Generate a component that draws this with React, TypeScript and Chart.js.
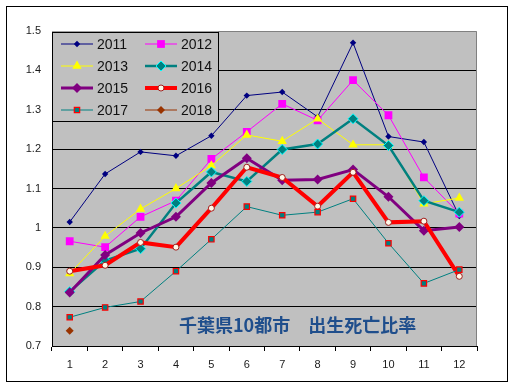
import React, { useEffect, useRef } from 'react';
import { Chart, registerables } from 'chart.js';

Chart.register(...registerables);

const months = ['1', '2', '3', '4', '5', '6', '7', '8', '9', '10', '11', '12'];
const years = ['2011', '2012', '2013', '2014', '2015', '2016', '2017', '2018'];

const v2011 = [1.015, 1.137, 1.193, 1.183, 1.234, 1.336, 1.345, 1.282, 1.47, 1.232, 1.218, 1.03];
const v2012 = [0.966, 0.951, 1.028, 1.069, 1.175, 1.244, 1.315, 1.273, 1.375, 1.286, 1.128, 1.036];
const v2013 = [0.884, 0.979, 1.048, 1.1, 1.158, 1.236, 1.22, 1.277, 1.211, 1.211, 1.061, 1.076];
const v2014 = [0.838, 0.917, 0.947, 1.063, 1.142, 1.118, 1.199, 1.213, 1.277, 1.209, 1.069, 1.04];
const v2015 = [0.836, 0.931, 0.987, 1.028, 1.114, 1.177, 1.121, 1.123, 1.148, 1.079, 0.993, 1.002];
const v2016 = [0.89, 0.905, 0.963, 0.951, 1.05, 1.154, 1.128, 1.055, 1.141, 1.014, 1.017, 0.877];
const v2017 = [0.773, 0.798, 0.813, 0.89, 0.971, 1.054, 1.032, 1.04, 1.074, 0.961, 0.859, 0.894];
const v2018 = [0.739, null, null, null, null, null, null, null, null, null, null, null];

const yMin = 0.7;
const yMax = 1.5;
const yStep = 0.1;

const titleText = '千葉県10都市　出生死亡比率';

type Style = {
  line: string;
  width: number;
  marker: 'rectRot' | 'rect' | 'triangle' | 'circle';
  radius: number;
  fill: string;
  border: string;
  borderWidth: number;
};

const styles: Style[] = [
  { line: '#000080', width: 1, marker: 'rectRot', radius: 3.2, fill: '#000080', border: '#000080', borderWidth: 0 },
  { line: '#FF00FF', width: 1, marker: 'rect', radius: 5.5, fill: '#FF00FF', border: '#FF00FF', borderWidth: 0 },
  { line: '#FFFF00', width: 1, marker: 'triangle', radius: 5.4, fill: '#FFFF00', border: '#FFFF00', borderWidth: 0 },
  { line: '#008080', width: 2.5, marker: 'rectRot', radius: 5, fill: '#008080', border: '#00FFFF', borderWidth: 1 },
  { line: '#800080', width: 3, marker: 'rectRot', radius: 5, fill: '#800080', border: '#800080', borderWidth: 0 },
  { line: '#FF0000', width: 4, marker: 'circle', radius: 3, fill: '#FFF8E8', border: '#A02020', borderWidth: 1 },
  { line: '#008080', width: 1, marker: 'rect', radius: 3.8, fill: '#008080', border: '#FF0000', borderWidth: 1.2 },
  { line: '#993300', width: 1, marker: 'rectRot', radius: 4, fill: '#993300', border: '#993300', borderWidth: 0 },
];

const seriesValues = [v2011, v2012, v2013, v2014, v2015, v2016, v2017, v2018];

function drawMarker(ctx: CanvasRenderingContext2D, s: Style, x: number, y: number) {
  const r = s.radius;
  ctx.beginPath();
  if (s.marker === 'rectRot') {
    ctx.moveTo(x, y - r);
    ctx.lineTo(x + r, y);
    ctx.lineTo(x, y + r);
    ctx.lineTo(x - r, y);
    ctx.closePath();
  } else if (s.marker === 'rect') {
    const h = r * Math.SQRT1_2;
    ctx.rect(x - h, y - h, 2 * h, 2 * h);
  } else if (s.marker === 'triangle') {
    for (let i = 0; i < 3; i++) {
      const a = (i * 2 * Math.PI) / 3;
      const px = x + Math.sin(a) * r;
      const py = y - Math.cos(a) * r;
      if (i === 0) ctx.moveTo(px, py);
      else ctx.lineTo(px, py);
    }
    ctx.closePath();
  } else {
    ctx.arc(x, y, r, 0, Math.PI * 2);
  }
  ctx.fillStyle = s.fill;
  ctx.fill();
  if (s.borderWidth > 0) {
    ctx.lineWidth = s.borderWidth;
    ctx.strokeStyle = s.border;
    ctx.stroke();
  }
}

const framePlugin = {
  id: 'frame',
  beforeDraw(chart: any) {
    const { ctx, chartArea, width, height } = chart;
    ctx.save();
    ctx.fillStyle = '#FFFFFF';
    ctx.fillRect(0, 0, width, height);
    ctx.strokeStyle = '#000000';
    ctx.lineWidth = 1;
    ctx.strokeRect(6.5, 6.5, width - 13, height - 13);
    ctx.fillStyle = '#C0C0C0';
    ctx.fillRect(chartArea.left, chartArea.top, chartArea.right - chartArea.left, chartArea.bottom - chartArea.top);
    ctx.restore();
  },
  beforeDatasetsDraw(chart: any) {
    const { ctx, chartArea } = chart;
    ctx.save();
    ctx.strokeStyle = '#808080';
    ctx.lineWidth = 1;
    ctx.beginPath();
    ctx.moveTo(chartArea.left, Math.round(chartArea.top) + 0.5);
    ctx.lineTo(Math.round(chartArea.right) - 0.5, Math.round(chartArea.top) + 0.5);
    ctx.lineTo(Math.round(chartArea.right) - 0.5, chartArea.bottom);
    ctx.stroke();
    ctx.restore();
  },
  afterDatasetsDraw(chart: any) {
    const { ctx, chartArea } = chart;
    ctx.save();
    // title inside plot area
    ctx.font = 'bold 18px "Noto Sans CJK JP", sans-serif';
    ctx.fillStyle = '#1F4E8C';
    ctx.textAlign = 'left';
    ctx.textBaseline = 'middle';
    ctx.fillText(titleText, chartArea.left + 127, chartArea.bottom - 21);

    // legend box
    const lx = chartArea.left;
    const ly = chartArea.top + 0.5;
    const lw = 166;
    const lh = 89;
    ctx.fillStyle = '#C0C0C0';
    ctx.fillRect(lx, ly, lw, lh);
    ctx.strokeStyle = '#000000';
    ctx.lineWidth = 1;
    ctx.strokeRect(Math.round(lx) + 0.5, Math.round(ly) + 0.5, lw, lh);
    ctx.font = '14px "Liberation Sans", Arial, sans-serif';
    ctx.textBaseline = 'middle';
    years.forEach((yr, i) => {
      const col = i % 2;
      const row = Math.floor(i / 2);
      const x0 = lx + 9 + col * 84;
      const yy = ly + 12.5 + row * 22;
      const s = styles[i];
      ctx.strokeStyle = s.line;
      ctx.lineWidth = s.width;
      ctx.beginPath();
      ctx.moveTo(x0, yy);
      ctx.lineTo(x0 + 32, yy);
      ctx.stroke();
      drawMarker(ctx, s, x0 + 16, yy);
      ctx.fillStyle = '#111111';
      ctx.fillText(yr, x0 + 36, yy + 1);
    });
    ctx.restore();
  },
};

export default function App() {
  const ref = useRef<HTMLCanvasElement | null>(null);

  useEffect(() => {
    if (!ref.current) return;
    const datasets = years.map((yr, i) => {
      const s = styles[i];
      return {
        label: yr,
        data: seriesValues[i],
        borderColor: s.line,
        borderWidth: s.width,
        backgroundColor: s.fill,
        pointStyle: s.marker,
        pointRadius: s.radius,
        pointHoverRadius: s.radius,
        pointBackgroundColor: s.fill,
        pointBorderColor: s.border,
        pointBorderWidth: s.borderWidth,
        tension: 0,
        fill: false,
        order: years.length - 1 - i,
      };
    });
    const chart = new Chart(ref.current, {
      type: 'line',
      data: { labels: months, datasets },
      options: {
        animation: false,
        responsive: false,
        devicePixelRatio: 1,
        layout: { padding: { top: 31, right: 37, bottom: 0, left: 0 } },
        plugins: { legend: { display: false }, tooltip: { enabled: false }, title: { display: false } },
        scales: {
          x: {
            type: 'category',
            offset: true,
            afterFit: (scale: any) => {
              scale.height = 42;
            },
            grid: {
              offset: true,
              drawOnChartArea: false,
              drawTicks: true,
              tickLength: 5,
              color: '#000000',
            },
            border: { display: true, color: '#000000', width: 1 },
            ticks: {
              color: '#1a1a1a',
              font: { family: '"Liberation Sans", Arial, sans-serif', size: 11 },
              padding: 7,
              maxRotation: 0,
            },
          },
          y: {
            min: yMin,
            max: yMax,
            afterFit: (scale: any) => {
              scale.width = 52;
            },
            grid: {
              color: (c: any) => (c.tick && Math.abs(c.tick.value - yMax) < 1e-6 ? 'rgba(0,0,0,0)' : '#000000'),
              lineWidth: 1,
              drawTicks: false,
            },
            border: { display: true, color: '#000000', width: 1 },
            ticks: {
              stepSize: yStep,
              color: '#1a1a1a',
              font: { family: '"Liberation Sans", Arial, sans-serif', size: 11 },
              padding: 11,
              callback: (v: any) => String(Math.round(Number(v) * 10) / 10),
            },
          },
        },
      },
      plugins: [framePlugin],
    });
    return () => chart.destroy();
  }, []);

  return (
    <div style={{ position: 'absolute', left: 0, top: 0, width: 514, height: 388 }}>
      <canvas ref={ref} width={514} height={388} />
    </div>
  );
}
